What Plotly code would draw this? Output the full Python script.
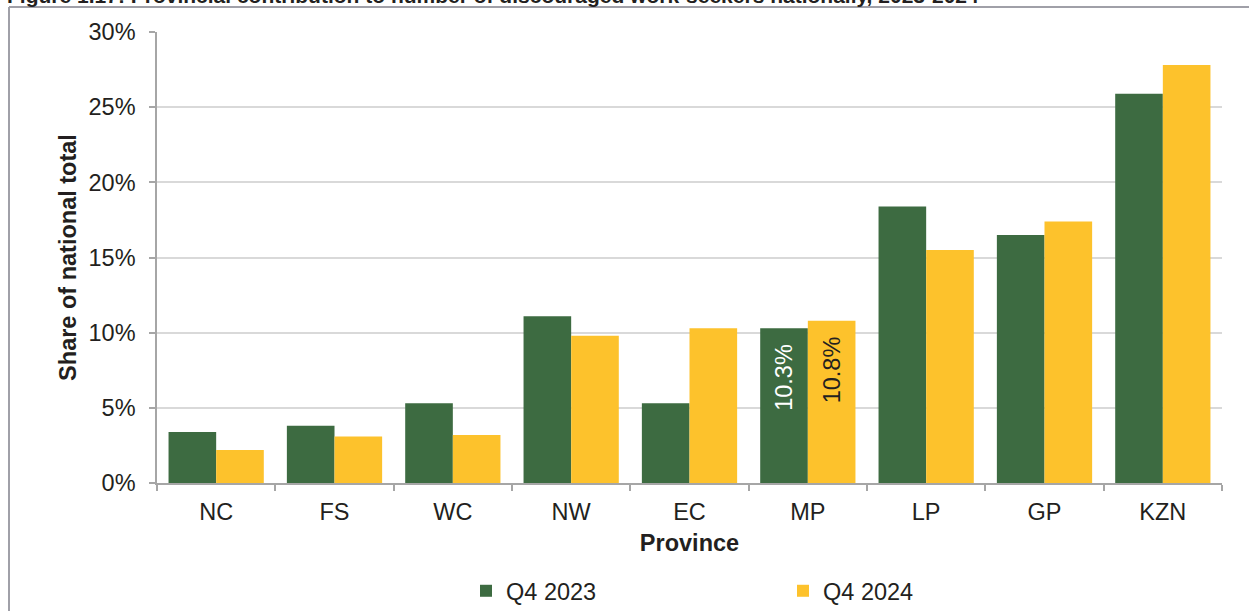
import plotly.graph_objects as go

provinces = ["NC", "FS", "WC", "NW", "EC", "MP", "LP", "GP", "KZN"]
q4_2023 = [3.4, 3.8, 5.3, 11.1, 5.3, 10.3, 18.4, 16.5, 25.9]
q4_2024 = [2.2, 3.1, 3.2, 9.8, 10.3, 10.8, 15.5, 17.4, 27.8]
labelled = ["MP"]
y_ticks = [0, 5, 10, 15, 20, 25, 30]
y_tick_labels = ["0%", "5%", "10%", "15%", "20%", "25%", "30%"]

GREEN = "#3D6B41"
YELLOW = "#FDC22C"
FONT = "Liberation Sans, Arial, sans-serif"
TXT = "#231F20"
FS = 23.5

def labels(vals):
    return [f"{v:.1f}%\u00a0\u00a0" if p in labelled else "" for p, v in zip(provinces, vals)]

fig = go.Figure()
fig.add_trace(go.Bar(
    x=provinces, y=q4_2023, name="Q4 2023", marker=dict(color=GREEN, line=dict(width=0)),
    text=labels(q4_2023), textposition="inside", insidetextanchor="end", textangle=-90,
    textfont=dict(family=FONT, size=FS, color="white"), constraintext="none",
    hoverinfo="x+y",
))
fig.add_trace(go.Bar(
    x=provinces, y=q4_2024, name="Q4 2024", marker=dict(color=YELLOW, line=dict(width=0)),
    text=labels(q4_2024), textposition="inside", insidetextanchor="end", textangle=-90,
    textfont=dict(family=FONT, size=FS, color=TXT), constraintext="none",
    hoverinfo="x+y",
))

L, R, T, B = 157, 27, 32, 128
W, H = 1249, 611
pw, ph = W - L - R, H - T - B

def px_x(x):
    return (x - L) / pw

def px_y(y):
    return (H - B - y) / ph

fig.update_layout(
    width=W, height=H,
    margin=dict(l=L, r=R, t=T, b=B, pad=0, autoexpand=False),
    paper_bgcolor="white", plot_bgcolor="white",
    font=dict(family=FONT, size=FS, color=TXT),
    barmode="group", bargap=0.195, bargroupgap=0,
    showlegend=True,
    legend=dict(
        orientation="h", x=px_x(466), xanchor="left", y=px_y(591), yanchor="middle",
        font=dict(family=FONT, size=FS, color=TXT),
        entrywidth=272, entrywidthmode="pixels", itemwidth=30,
        bgcolor="rgba(0,0,0,0)", tracegroupgap=0,
    ),
    xaxis=dict(
        title=dict(text="<b>Province</b>", font=dict(family=FONT, size=FS, color=TXT), standoff=11),
        showline=True, linecolor="#A6A6A6", linewidth=1.5,
        ticks="outside", ticklen=6, tickcolor="#A6A6A6", tickwidth=1.5,
        tickson="boundaries", showgrid=False, automargin=False, ticklabelstandoff=7,
        tickfont=dict(family=FONT, size=FS, color=TXT),
    ),
    yaxis=dict(
        title=dict(text="<b>Share of national total</b>", font=dict(family=FONT, size=FS, color=TXT), standoff=5),
        range=[0, 30], tickvals=y_ticks, ticktext=y_tick_labels,
        showline=True, linecolor="#A6A6A6", linewidth=1.5,
        ticks="outside", ticklen=6, tickcolor="#A6A6A6", tickwidth=1.5,
        showgrid=True, gridcolor="#D9D9D9", gridwidth=1.5, zeroline=False, automargin=False,
        ticklabelstandoff=9,
        tickfont=dict(family=FONT, size=FS, color=TXT),
    ),
)

# Outer chart frame (top and left edges visible in the reference crop)
fig.add_shape(type="line", xref="paper", yref="paper",
              x0=px_x(9), x1=px_x(1249), y0=px_y(7), y1=px_y(7),
              line=dict(color="#A0A0A8", width=2))
fig.add_shape(type="line", xref="paper", yref="paper",
              x0=px_x(9), x1=px_x(9), y0=px_y(7), y1=px_y(620),
              line=dict(color="#A0A0A8", width=2))

# Figure title, cropped at the top edge
fig.add_annotation(
    text="<b>Figure 1.17: Provincial contribution to number of discouraged work-seekers nationally, 2023-2024</b>",
    xref="paper", yref="paper", x=px_x(5), y=px_y(8.5), xanchor="left", yanchor="bottom",
    showarrow=False, font=dict(family=FONT, size=21, color=TXT),
)

fig.write_html("out.html", post_script="document.body.style.margin='0';",
               config={"displayModeBar": False})
